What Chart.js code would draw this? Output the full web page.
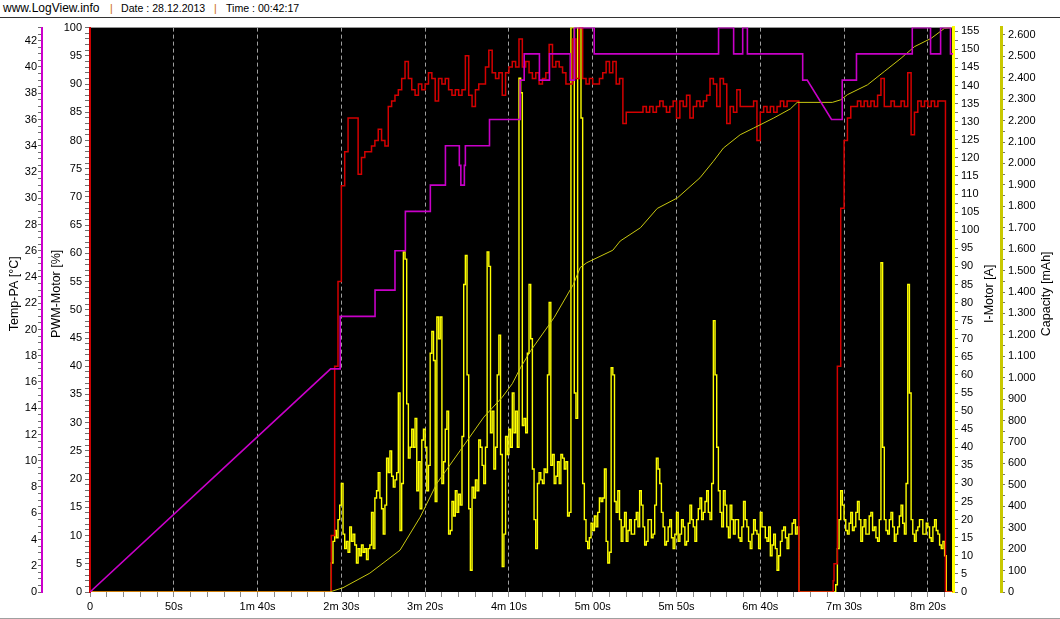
<!DOCTYPE html>
<html lang="de">
<head>
<meta charset="UTF-8">
<title>LogView</title>
<script src="https://cdn.jsdelivr.net/npm/chart.js"></script>
<style>
  body { margin: 0; background: #fff; font-family: "Liberation Sans", Arial, sans-serif; }
  #kopf { position: relative; height: 17px; border-bottom: 1px solid #333; color: #000; white-space: nowrap; }
  #kopf span { position: absolute; top: 2px; font-size: 10.6px; line-height: 13px; }
  #kopf .site { font-size: 12px; }
  #kopf .sep { color: #cc6600; }
  #rahmen { position: relative; width: 1060px; height: 600px; border-bottom: 1px solid #a0a0a0; }
</style>
</head>
<body>

<div id="kopf">
  <span class="site" style="left:3px">www.LogView.info</span>
  <span class="sep" style="left:110px">|</span>
  <span style="left:121px">Date : 28.12.2013</span>
  <span class="sep" style="left:214px">|</span>
  <span style="left:226px">Time : 00:42:17</span>
</div>
<div id="rahmen"><canvas id="logChart" width="1060" height="600"></canvas></div>

<script>
const timeLabels = ['0', '50s', '1m 40s', '2m 30s', '3m 20s', '4m 10s', '5m 00s', '5m 50s', '6m 40s', '7m 30s', '8m 20s'];

const run1Start = 144;   // erster Flug
const run2Start = 444;   // zweiter Flug

// PWM-Motor [%], alle 2 s
const pwmStep = 2;
const pwmRun1 = [
  10, 40, 55, 72, 78, 84, 84, 84, 74, 77,
  78, 78, 79, 80, 82, 80, 79, 86, 87, 88,
  89, 91, 94, 91, 89, 88, 90, 89, 90, 92,
  91, 87, 91, 90, 91, 89, 88, 89, 88, 89,
  95, 88, 86, 89, 90, 90, 93, 96, 92, 91,
  92, 88, 92, 93, 94, 93, 98, 93, 94, 92,
  91, 92, 90, 91, 92, 97, 93, 94, 93, 92,
  90, 90, 98, 91, 100, 91, 90, 91, 90, 90,
  91, 92, 94, 92, 94, 90, 91, 83, 85, 85,
  85, 85, 85, 86, 85, 86, 85, 86, 87, 86,
  85, 86, 87, 84, 87, 86, 88, 84, 86, 87,
  86, 87, 88, 91, 90, 86, 91, 90, 83, 86,
  85, 89, 86, 86, 86, 86, 87, 80, 85, 86,
  85, 86, 85, 86, 87, 86, 87, 87, 87, 87
];
const pwmRun2 = [
  5, 40, 68, 80, 84, 86, 86, 87, 86, 87,
  86, 87, 86, 88, 91, 86, 86, 87, 86, 86,
  87, 86, 92, 81, 85, 87, 86, 87, 86, 87,
  86, 87, 87, 87
];
const pwmIdleTime  = [0, 423, 430, 443.5, 510.5, 515];
const pwmIdleValue = [0, 0, 0, 2, 0, 0];

// I-Motor [A], jede Sekunde
const currentStep = 1;
const currentRun1 = [
  8, 14, 17, 15, 20, 24, 30, 16, 12, 14,
  11, 18, 14, 16, 13, 8, 12, 10, 13, 11,
  12, 9, 12, 13, 22, 12, 26, 28, 33, 26,
  23, 16, 24, 37, 33, 39, 32, 29, 31, 33,
  55, 17, 30, 94, 92, 52, 37, 40, 45, 40,
  48, 28, 36, 23, 42, 45, 40, 28, 35, 66,
  72, 64, 25, 76, 70, 76, 30, 36, 45, 50,
  16, 17, 25, 21, 28, 22, 27, 24, 43, 85,
  93, 60, 23, 6, 29, 26, 31, 28, 42, 40,
  35, 30, 40, 94, 90, 44, 50, 34, 40, 60,
  71, 38, 7, 16, 43, 38, 45, 40, 55, 44,
  50, 40, 142, 138, 46, 48, 44, 66, 85, 70,
  34, 20, 12, 30, 33, 31, 30, 34, 33, 60,
  80, 35, 38, 30, 32, 36, 30, 38, 37, 34,
  36, 21, 22, 156, 156, 55, 48, 156, 156, 131,
  30, 20, 14, 12, 15, 19, 17, 21, 18, 22,
  26, 25, 26, 34, 14, 8, 11, 62, 60, 25,
  22, 28, 20, 14, 18, 22, 14, 17, 20, 16,
  16, 20, 22, 18, 28, 24, 18, 13, 14, 20,
  20, 15, 16, 24, 37, 34, 30, 22, 18, 13,
  14, 18, 20, 15, 12, 16, 22, 14, 16, 20,
  18, 13, 14, 19, 24, 20, 18, 14, 20, 23,
  26, 20, 22, 25, 28, 22, 20, 30, 75, 60,
  40, 28, 22, 18, 28, 24, 18, 15, 24, 20,
  16, 20, 20, 15, 14, 18, 25, 20, 18, 14,
  12, 16, 20, 17, 16, 12, 22, 18, 18, 15,
  14, 18, 10, 13, 16, 12, 6, 10, 14, 17,
  18, 15, 12, 16, 16, 19, 20, 16, 18
];
const currentRun2 = [
  0, 2, 12, 20, 28, 24, 20, 17, 16, 19,
  22, 17, 18, 22, 25, 20, 14, 18, 20, 16,
  16, 21, 22, 17, 18, 15, 14, 20, 91, 40,
  20, 17, 16, 20, 22, 18, 14, 16, 18, 21,
  24, 19, 16, 30, 85, 55, 20, 16, 14, 17,
  18, 20, 20, 16, 16, 19, 18, 15, 14, 18,
  20, 17, 16, 13, 12, 14, 10
];
const currentIdleTime  = [0, 423, 511, 515];
const currentIdleValue = [0, 0, 0, 0];

// Capacity [mAh]
const capTime  = [0, 143, 151, 167, 185, 197, 207, 221, 235, 246, 252, 257, 263, 277, 288.5, 292.5, 296.5, 312, 316.4, 328.5,
                  338.5, 350.5, 364, 372, 378, 388, 396, 408, 418, 422, 443, 448, 452, 464, 474, 484, 492, 502, 510, 515];
const capValue = [0, 0, 20, 88, 195, 349, 507, 661, 816, 909, 972, 1048, 1126, 1281, 1436, 1514, 1537, 1595, 1638, 1700,
                  1790, 1839, 1933, 2010, 2072, 2134, 2165, 2212, 2255, 2285, 2285, 2297, 2321, 2367, 2429, 2491, 2545, 2584, 2631, 2634];

// Temp-PA [°C]
const tempTime  = [0, 143.6, 149.3, 149.3, 170.1, 170.1, 182, 182, 188.2, 188.2, 203.1, 203.1, 212.1, 212.1,
                   220.4, 220.4, 221.3, 221.3, 223.4, 223.4, 224, 224, 238.4, 238.4, 256.7, 256.7, 259.1, 259.1,
                   268.2, 268.2, 274.2, 274.2, 286.6, 286.6, 289.1, 289.1, 300.9, 300.9, 375.1, 375.1, 384.1, 384.1,
                   389.5, 389.5, 392.3, 392.3, 425.3, 425.3, 428, 442.5, 448.9, 448.9, 457.4, 457.4, 490.7, 490.7,
                   501.6, 501.6, 507.6, 507.6, 513.5, 513.5, 515];
const tempValue = [0, 17, 17, 21, 21, 23, 23, 26, 26, 29, 29, 31, 31, 34,
                   34, 32.5, 32.5, 31, 31, 32.5, 32.5, 34, 34, 36, 36, 39, 39, 41,
                   41, 39, 39, 41, 41, 39, 39, 43, 43, 41, 41, 43, 43, 41,
                   41, 43, 43, 41, 41, 39, 39, 36, 36, 39, 39, 41, 41, 43,
                   43, 41, 41, 43, 43, 41, 41];

// ---- Hilfsfunktionen ----
function pairs(times, values) {
  return times.map((t, i) => ({ x: t, y: values[i] }));
}
function runPoints(start, step, values) {
  return values.map((v, i) => ({ x: start + i * step, y: v }));
}
function sortByTime(points) {
  return points.sort((a, b) => a.x - b.x);
}
function isMultiple(v, m) {
  return Math.abs(v / m - Math.round(v / m)) < 1e-6;
}
function capLabel(v) {
  if (v < 1000) return String(v);
  return Math.floor(v / 1000) + '.' + String(v % 1000).padStart(3, '0');
}

const pwmData = sortByTime([
  ...pairs(pwmIdleTime, pwmIdleValue),
  ...runPoints(run1Start, pwmStep, pwmRun1),
  ...runPoints(run2Start, pwmStep, pwmRun2)
]);
const currentData = sortByTime([
  ...pairs(currentIdleTime, currentIdleValue),
  ...runPoints(run1Start, currentStep, currentRun1),
  ...runPoints(run2Start, currentStep, currentRun2)
]);

// ---- Plugins ----
const plotBackground = {
  id: 'plotBackground',
  beforeDraw(chart) {
    const { ctx, chartArea } = chart;
    ctx.save();
    ctx.fillStyle = '#000';
    ctx.fillRect(chartArea.left, chartArea.top, chartArea.right - chartArea.left, chartArea.bottom - chartArea.top);
    ctx.restore();
  }
};

// Achsentitel: alle von unten nach oben gelesen (auch rechts)
const axisTitles = {
  id: 'axisTitles',
  afterDraw(chart) {
    const ctx = chart.ctx;
    const mid = (chart.chartArea.top + chart.chartArea.bottom) / 2 - 16;
    const titles = [
      ['yTemp', 'Temp-PA [°C]', s => s.left + 15],
      ['yPwm', 'PWM-Motor [%]', s => s.left + 15],
      ['yCur', 'I-Motor [A]', s => s.right - 11],
      ['yCap', 'Capacity [mAh]', s => s.right - 13]
    ];
    ctx.save();
    ctx.fillStyle = '#000';
    ctx.font = '12.5px "Liberation Sans", Arial, sans-serif';
    ctx.textAlign = 'center';
    ctx.textBaseline = 'middle';
    titles.forEach(([id, text, xPos]) => {
      const scale = chart.scales[id];
      ctx.save();
      ctx.translate(xPos(scale), mid);
      ctx.rotate(-Math.PI / 2);
      ctx.fillText(text, 0, 0);
      ctx.restore();
    });
    ctx.restore();
  }
};

// ---- Achsen ----
const tickFont = { family: '"Liberation Sans", Arial, sans-serif', size: 11 };

function yAxis(position, weight, max, step, major, color, lineWidth, boxWidth, tickLength, padding, fmt) {
  return {
    type: 'linear',
    position: position,
    weight: weight,
    min: 0,
    max: max,
    afterFit: s => { s.width = boxWidth; },
    border: { display: true, color: color, width: lineWidth },
    grid: { drawOnChartArea: false, drawTicks: true, tickLength: tickLength, tickColor: '#707070', tickWidth: 1 },
    ticks: {
      stepSize: step,
      includeBounds: false,
      autoSkip: false,
      padding: padding,
      color: '#000',
      font: tickFont,
      callback: v => (isMultiple(v, major) ? fmt(v) : '')
    }
  };
}

const config = {
  type: 'line',
  data: {
    datasets: [
      { label: 'Temp-PA', data: pairs(tempTime, tempValue), yAxisID: 'yTemp', borderColor: '#c800c8', borderWidth: 1.6 },
      { label: 'Capacity', data: pairs(capTime, capValue), yAxisID: 'yCap', borderColor: '#c8c810', borderWidth: 1 },
      { label: 'PWM-Motor', data: pwmData, yAxisID: 'yPwm', borderColor: '#d40000', borderWidth: 1.5, stepped: true },
      { label: 'I-Motor', data: currentData, yAxisID: 'yCur', borderColor: '#ffff00', borderWidth: 1.4, stepped: true }
    ]
  },
  options: {
    responsive: false,
    devicePixelRatio: 1,
    animation: false,
    elements: { point: { radius: 0 }, line: { tension: 0, fill: false } },
    layout: { padding: { top: 8, left: 0, right: 0, bottom: 0 } },
    plugins: { legend: { display: false }, tooltip: { enabled: false }, title: { display: false } },
    scales: {
      x: {
        type: 'linear',
        min: 0,
        max: 515,
        afterFit: s => { s.height = 26; },
        border: { display: false, dash: [4, 3] },
        grid: {
          color: c => (c.tick && isMultiple(c.tick.value, 50) ? '#a0a0a0' : 'rgba(0,0,0,0)'),
          lineWidth: 1,
          drawTicks: true,
          tickLength: 5,
          tickColor: '#8a8a8a',
          tickBorderDash: []
        },
        ticks: {
          stepSize: 10,
          includeBounds: false,
          autoSkip: false,
          maxRotation: 0,
          padding: 3,
          color: '#000',
          font: tickFont,
          callback: v => (isMultiple(v, 50) ? timeLabels[Math.round(v / 50)] : '')
        }
      },
      yPwm: yAxis('left', 0, 100, 1, 5, '#cc0000', 2, 48, 5, 3, v => String(v)),
      yTemp: yAxis('left', 1, 43, 0.5, 2, '#cc00cc', 2, 42, 4, 1, v => String(v)),
      yCur: yAxis('right', 0, 156, 2.5, 5, '#ffff00', 3, 48, 5, 3, v => String(v)),
      yCap: yAxis('right', 1, 2634, 50, 100, '#c8c800', 3, 59, 4, 3, capLabel)
    }
  },
  plugins: [plotBackground, axisTitles]
};

new Chart(document.getElementById('logChart'), config);
</script>
</body>
</html>
